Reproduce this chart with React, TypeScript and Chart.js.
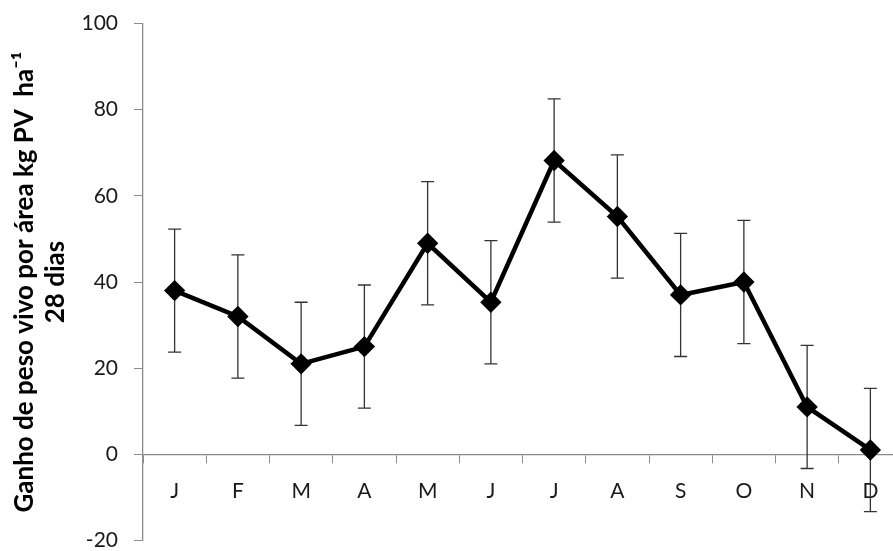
import React, { useEffect, useRef } from 'react';
import { Chart, registerables } from 'chart.js';

Chart.register(...registerables);

const months = ['J', 'F', 'M', 'A', 'M', 'J', 'J', 'A', 'S', 'O', 'N', 'D'];
const gain = [38, 32, 21, 25, 49, 35.3, 68.2, 55.2, 37, 40, 11, 1];
const errorMargin = [14.3, 14.3, 14.3, 14.3, 14.3, 14.3, 14.3, 14.3, 14.3, 14.3, 14.3, 14.3];
const yTitle = ['Ganho de peso vivo por área kg PV  ha⁻¹', '28 dias'];

const errorBarPlugin = {
  id: 'errorBars',
  beforeDatasetsDraw(chart: any) {
    const ctx = chart.ctx;
    const xs = chart.scales.x;
    const ys = chart.scales.y;
    ctx.save();
    ctx.strokeStyle = '#333';
    ctx.lineWidth = 1.3;
    gain.forEach((v, i) => {
      const x = xs.getPixelForValue(i);
      const yTop = ys.getPixelForValue(v + errorMargin[i]);
      const yBot = ys.getPixelForValue(v - errorMargin[i]);
      const w = 6.5;
      ctx.beginPath();
      ctx.moveTo(x, yTop);
      ctx.lineTo(x, yBot);
      ctx.moveTo(x - w, yTop);
      ctx.lineTo(x + w, yTop);
      ctx.moveTo(x - w, yBot);
      ctx.lineTo(x + w, yBot);
      ctx.stroke();
    });
    ctx.restore();
  },
};

export default function App() {
  const ref = useRef<HTMLCanvasElement>(null);
  useEffect(() => {
    if (!ref.current) return;
    const chart = new Chart(ref.current, {
      type: 'line',
      data: {
        labels: months,
        datasets: [
          {
            data: gain,
            borderColor: '#000',
            backgroundColor: '#000',
            borderWidth: 4.5,
            pointStyle: 'rectRot',
            pointRadius: 7.5,
            pointBackgroundColor: '#000',
            pointBorderColor: '#000',
            tension: 0,
          },
        ],
      },
      options: {
        responsive: false,
        animation: false,
        layout: { padding: { top: 14, bottom: 11, left: 0, right: 8 } },
        plugins: { legend: { display: false }, tooltip: { enabled: false } },
        scales: {
          x: {
            type: 'category',
            position: { y: 0 } as any,
            offset: true,
            afterFit(scale: any) {
              scale.height = 0;
            },
            grid: {
              offset: true,
              drawOnChartArea: false,
              drawTicks: true,
              tickLength: 8,
              tickColor: '#8c8c8c',
              tickWidth: 1,
            },
            border: { color: '#8c8c8c', width: 1.3 },
            ticks: {
              color: '#1a1a1a',
              padding: 16,
              font: { family: 'Lato', size: 21 },
              maxRotation: 0,
              autoSkip: false,
            },
          },
          y: {
            min: -20,
            max: 100,
            afterFit(scale: any) {
              scale.width = 143;
            },
            grid: {
              drawOnChartArea: false,
              tickLength: 9,
              tickColor: '#8c8c8c',
              tickWidth: 1,
            },
            border: { color: '#8c8c8c', width: 1.3 },
            ticks: {
              stepSize: 20,
              color: '#1a1a1a',
              padding: 16,
              font: { family: 'Lato', size: 21 },
            },
            title: {
              display: true,
              text: yTitle,
              color: '#000',
              font: { family: 'Lato', size: 26, weight: 'bold', lineHeight: 1.2 },
              padding: { top: 9, bottom: 0 },
            },
          },
        },
      },
      plugins: [errorBarPlugin],
    });
    return () => chart.destroy();
  }, []);
  return (
    <div style={{ position: 'absolute', left: 0, top: 0, width: 893, height: 551, overflow: 'hidden', background: '#fff' }}>
      <canvas
        ref={ref}
        width={914}
        height={574}
        style={{ position: 'absolute', left: 0, top: -5, width: 914, height: 574, display: 'block' }}
      />
    </div>
  );
}
